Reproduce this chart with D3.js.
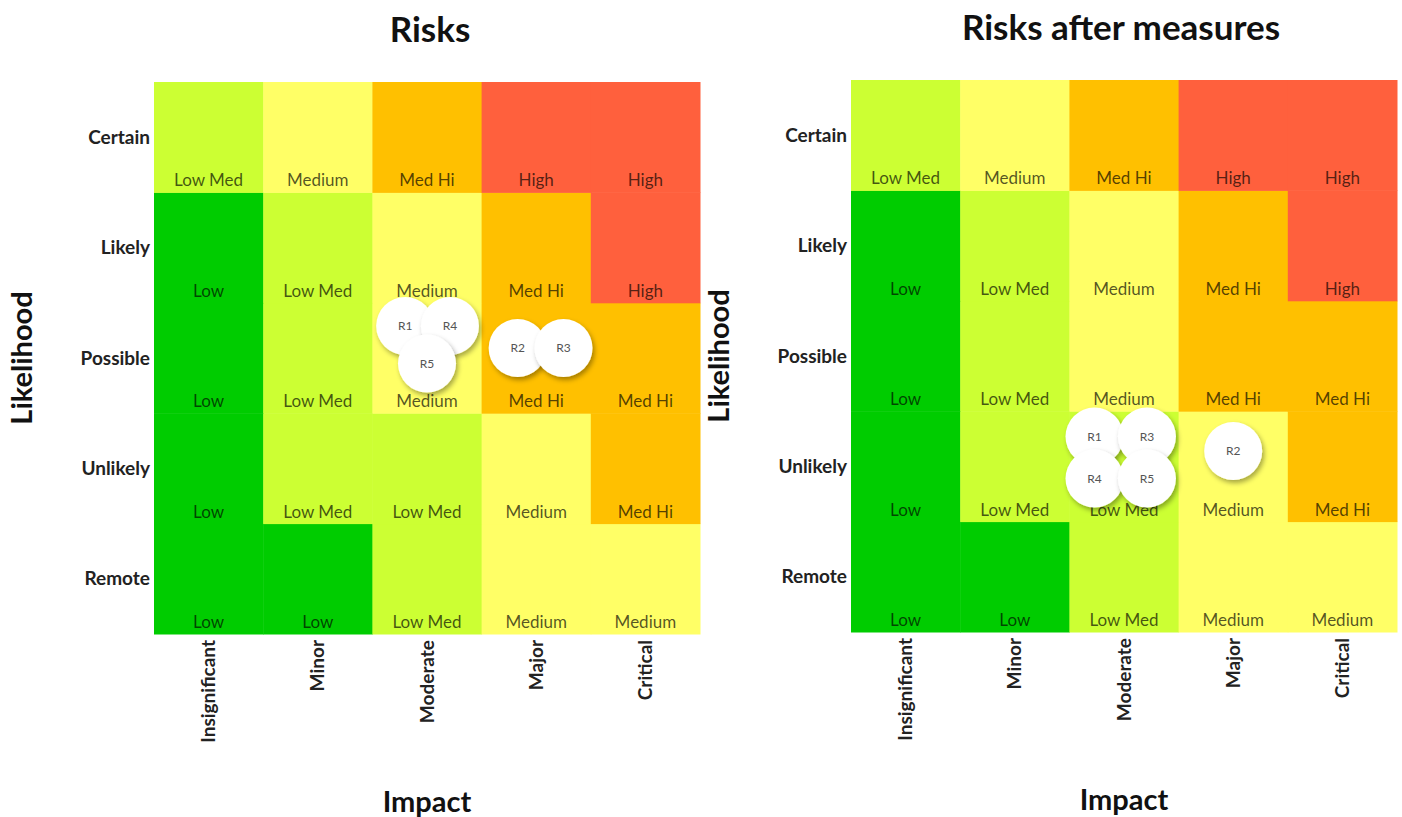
<!DOCTYPE html>
<html>
<head>
<meta charset="utf-8">
<script src="https://cdn.jsdelivr.net/npm/d3@7"></script>
<style>
  html, body { margin: 0; padding: 0; background: #fff; }
  svg { display: block; font-family: Lato, 'Open Sans', sans-serif; }
</style>
</head>
<body>
<div id="chart"></div>
<script>
// risk matrix data
const impacts = ['Insignificant', 'Minor', 'Moderate', 'Major', 'Critical'];
const likelihoods = ['Remote', 'Unlikely', 'Possible', 'Likely', 'Certain']; // bottom -> top
const levels = ['Low', 'Low Med', 'Medium', 'Med Hi', 'High'];
const levelColors = ['#00cc00', '#ccff33', '#ffff66', '#ffc000', '#ff603d'];

// level per cell, rows bottom (Remote) -> top (Certain), cols Insignificant -> Critical
const matrix = [
  ['Low', 'Low', 'Low Med', 'Medium', 'Medium'],
  ['Low', 'Low Med', 'Low Med', 'Medium', 'Med Hi'],
  ['Low', 'Low Med', 'Medium', 'Med Hi', 'Med Hi'],
  ['Low', 'Low Med', 'Medium', 'Med Hi', 'High'],
  ['Low Med', 'Medium', 'Med Hi', 'High', 'High'],
];

// risk positions in matrix units (impact 0-5, likelihood 0-5)
const risksBefore = [
  { id: 'R1', impact: 2.30, likelihood: 2.79 },
  { id: 'R2', impact: 3.33, likelihood: 2.59 },
  { id: 'R3', impact: 3.75, likelihood: 2.59 },
  { id: 'R4', impact: 2.71, likelihood: 2.79 },
  { id: 'R5', impact: 2.50, likelihood: 2.45 },
];
const risksAfter = [
  { id: 'R1', impact: 2.23, likelihood: 1.77 },
  { id: 'R2', impact: 3.50, likelihood: 1.64 },
  { id: 'R3', impact: 2.71, likelihood: 1.77 },
  { id: 'R4', impact: 2.23, likelihood: 1.39 },
  { id: 'R5', impact: 2.71, likelihood: 1.39 },
];

const W = 1402, H = 817;
const svg = d3.select('#chart').append('svg').attr('width', W).attr('height', H);

const defs = svg.append('defs');
const f = defs.append('filter').attr('id', 'shadow').attr('x', '-30%').attr('y', '-30%').attr('width', '170%').attr('height', '170%');
f.append('feDropShadow').attr('dx', 2).attr('dy', 3).attr('stdDeviation', 2.5)
  .attr('flood-color', '#000').attr('flood-opacity', 0.35);

const colorOf = d3.scaleOrdinal().domain(levels).range(levelColors);

function drawMatrix(opts) {
  const gw = 546, gh = 552;
  const g = svg.append('g').attr('transform', `translate(${opts.left},${opts.top})`);
  const x = d3.scaleLinear().domain([0, 5]).range([0, gw]);
  const y = d3.scaleLinear().domain([0, 5]).range([gh, 0]);

  // title
  g.append('text').attr('x', opts.titleX).attr('y', -40).attr('text-anchor', 'middle')
    .style('font-size', '35px').style('font-weight', 'bold').style('fill', '#111').text(opts.title);

  // cells
  const cells = [];
  matrix.forEach((row, r) => row.forEach((lv, c) => cells.push({ r, c, lv })));
  g.selectAll('rect.cell').data(cells).enter().append('rect')
    .attr('x', d => x(d.c)).attr('y', d => y(d.r + 1))
    .attr('width', x(1) - x(0) + 0.5).attr('height', y(0) - y(1) + 0.5)
    .attr('fill', d => colorOf(d.lv));
  g.selectAll('text.cell').data(cells).enter().append('text')
    .attr('x', d => x(d.c + 0.5)).attr('y', d => y(d.r) - 6)
    .attr('text-anchor', 'middle').style('font-size', '17px')
    .style('fill', '#000').style('fill-opacity', 0.68).text(d => d.lv);

  // likelihood labels
  g.selectAll('text.lk').data(likelihoods).enter().append('text')
    .attr('x', -4).attr('y', (d, i) => y(i + 0.5)).attr('dy', '0.35em')
    .attr('text-anchor', 'end').style('font-size', '19px').style('font-weight', 'bold')
    .style('fill', '#222').text(d => d);

  // impact labels
  g.selectAll('text.im').data(impacts).enter().append('text')
    .attr('transform', (d, i) => `translate(${x(i + 0.5)},${gh + 6}) rotate(-90)`)
    .attr('dy', '0.35em').attr('text-anchor', 'end')
    .style('font-size', '19px').style('font-weight', 'bold').style('fill', '#222').text(d => d);

  // axis titles
  g.append('text').attr('x', gw / 2).attr('y', gh + 178).attr('text-anchor', 'middle')
    .style('font-size', '29px').style('font-weight', 'bold').style('fill', '#111').text('Impact');
  g.append('text').attr('transform', `translate(${opts.ytX},${gh / 2}) rotate(-90)`)
    .attr('text-anchor', 'middle').attr('dy', '0.35em')
    .style('font-size', '29px').style('font-weight', 'bold').style('fill', '#111').text('Likelihood');

  // risk bubbles
  const b = g.selectAll('g.risk').data(opts.risks).enter().append('g')
    .attr('transform', d => `translate(${x(d.impact)},${y(d.likelihood)})`);
  b.append('circle').attr('r', 29).attr('fill', '#fff').attr('filter', 'url(#shadow)');
  b.append('text').attr('text-anchor', 'middle').attr('dy', '0.35em')
    .style('font-size', '12px').style('fill', '#555').text(d => d.id);
}

drawMatrix({ left: 154, top: 82, title: 'Risks', titleX: 276, ytX: -132, risks: risksBefore });
drawMatrix({ left: 851, top: 80, title: 'Risks after measures', titleX: 270, ytX: -132, risks: risksAfter });
</script>
</body>
</html>
